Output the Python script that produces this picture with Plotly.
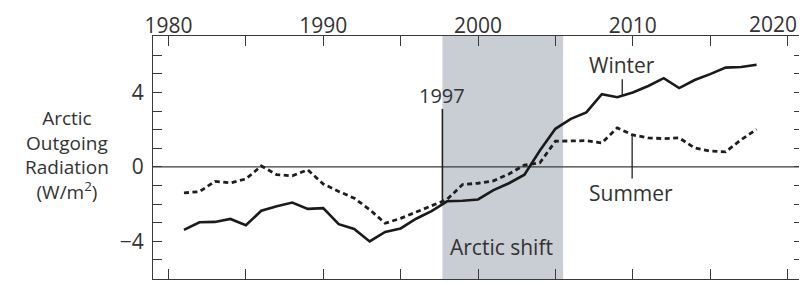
import plotly.graph_objects as go

years = list(range(1981, 2019))
winter = [-3.39, -2.98, -2.96, -2.80, -3.14, -2.36, -2.12, -1.92, -2.26, -2.22,
          -3.08, -3.34, -4.01, -3.50, -3.31, -2.79, -2.38, -1.85, -1.82, -1.75,
          -1.25, -0.88, -0.42, 0.88, 2.05, 2.58, 2.93, 3.91, 3.75, 4.00,
          4.35, 4.77, 4.24, 4.67, 4.99, 5.34, 5.37, 5.49]
summer = [-1.40, -1.33, -0.78, -0.86, -0.65, 0.05, -0.42, -0.48, -0.16, -0.92,
          -1.32, -1.68, -2.30, -3.03, -2.77, -2.44, -2.10, -1.75, -0.95, -0.88,
          -0.75, -0.38, 0.10, 0.22, 1.38, 1.41, 1.41, 1.29, 2.10, 1.72,
          1.56, 1.52, 1.56, 1.02, 0.85, 0.81, 1.46, 2.02]

x_tickvals = list(range(1980, 2021, 5))
x_labels = {1980: "1980", 1990: "1990", 2000: "2000", 2010: "2010"}
x_ticktext = [x_labels.get(v, "") for v in x_tickvals]
last_x_label = (2020, "2020")   # drawn pulled in so it stays inside the frame
y_tickvals = list(range(-6, 8))
y_labels = {-4: "\u22124", 0: "0", 4: "4"}
y_ticktext = [y_labels.get(v, "") for v in y_tickvals]
y_title = "Arctic<br>Outgoing<br>Radiation<br>(W/m<sup>2</sup>)"

shift_start, shift_end = 1997.7, 2005.5
FONT = "Open Sans"
TXT = "#333333"
AX = "#3a3a3a"

fig = go.Figure()
fig.add_trace(go.Scatter(x=years, y=summer, mode="lines",
                         line=dict(color="#1e1e1e", width=2.8, dash="5px,3.5px"),
                         showlegend=False, hoverinfo="skip"))
fig.add_trace(go.Scatter(x=years, y=winter, mode="lines",
                         line=dict(color="#1a1a1a", width=2.6),
                         showlegend=False, hoverinfo="skip"))

fig.add_shape(type="rect", xref="x", yref="paper", x0=shift_start, x1=shift_end,
              y0=0, y1=1, fillcolor="#c9cdd4", line_width=0, layer="below")
fig.add_shape(type="line", xref="paper", yref="y", x0=0, x1=1, y0=0, y1=0,
              line=dict(color=AX, width=1.3), layer="below")
# 1997 marker line
fig.add_shape(type="line", xref="x", yref="y", x0=shift_start, x1=shift_start,
              y0=3.12, y1=-2.01, line=dict(color="#222222", width=1.6))
# pointer lines
fig.add_shape(type="line", xref="x", yref="y", x0=2009.32, x1=2009.32,
              y0=4.71, y1=3.86, line=dict(color="#222222", width=1.3))
fig.add_shape(type="line", xref="x", yref="y", x0=2009.96, x1=2009.96,
              y0=1.75, y1=-0.63, line=dict(color="#222222", width=1.3))

def note(text, x, y, size=21, **kw):
    fig.add_annotation(text=text, x=x, y=y, showarrow=False, xanchor="center",
                       yanchor="middle",
                       font=dict(family=FONT, size=size, color=TXT), **kw)

note("Winter", 2009.3, 5.5)
note("Summer", 2009.9, -1.43)
note("1997", 1997.7, 3.85, size=20)
note("Arctic shift", 2001.5, -4.29)
note(y_title, -0.133, 0.512, size=19, xref="paper", yref="paper", align="center")
note(last_x_label[1], last_x_label[0], 1.0486, yref="paper", xshift=-15)

fig.update_xaxes(range=[1979, 2021], side="top", tickvals=x_tickvals, ticktext=x_ticktext,
                 ticks="inside", ticklen=10, tickwidth=1.3, tickcolor=AX,
                 showline=True, linecolor=AX, linewidth=1.3, mirror="allticks",
                 showgrid=False, zeroline=False, ticklabeloverflow="allow",
                 ticklabelstandoff=-7,
                 tickfont=dict(family=FONT, size=21, color=TXT))
fig.update_yaxes(range=[-6.03, 7.04], tickvals=y_tickvals, ticktext=y_ticktext,
                 ticks="inside", ticklen=9, tickwidth=1.3, tickcolor=AX,
                 showline=True, linecolor=AX, linewidth=1.3, mirror="allticks",
                 showgrid=False, zeroline=False, ticklabelstandoff=4,
                 tickfont=dict(family=FONT, size=21, color=TXT))

# page body has an 8px default margin; size the figure to fill the 807x283 window
fig.update_layout(width=799, height=275, margin=dict(l=145, r=4, t=25, b=3),
                  paper_bgcolor="white", plot_bgcolor="white")
fig.write_html("out.html")
